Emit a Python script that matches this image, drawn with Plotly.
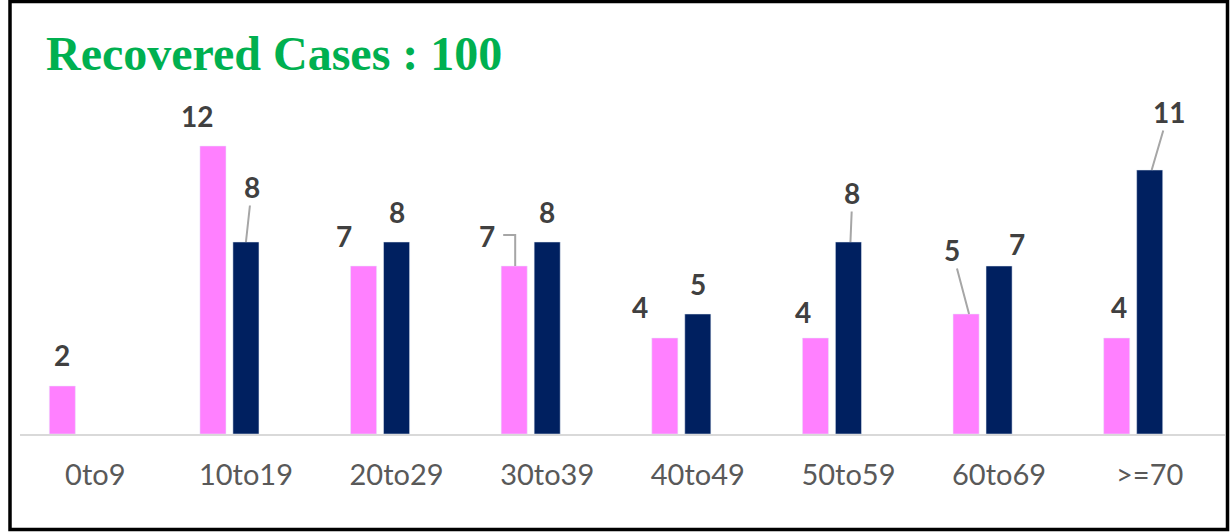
import plotly.graph_objects as go

categories = ["0to9", "10to19", "20to29", "30to39", "40to49", "50to59", "60to69", ">=70"]
female = [2, 12, 7, 7, 4, 4, 5, 4]
male = [None, 8, 8, 8, 5, 8, 7, 11]
spacer = [None] * 8

title_text = "Recovered Cases : 100"
pink = "#FF80FF"
navy = "#002060"
label_color = "#404040"

W, H = 1230, 532
ML, MR, MT, MB = 20, 5, 74, 98
plot_w = W - ML - MR
plot_h = H - MT - MB
ymax = plot_h / 24.0

fig = go.Figure()
fig.add_trace(go.Bar(x=categories, y=female, marker=dict(color=pink), name="Female"))
fig.add_trace(go.Bar(x=categories, y=male, marker=dict(color=navy), name="Male"))
fig.add_trace(go.Bar(x=categories, y=spacer, marker=dict(color="rgba(0,0,0,0)"), name="", hoverinfo="skip"))

# label placement: (dx from bar centre, dy above bar top, leader?, tip shift)
slot = 33
female_lbl = [(0, 31, False, 0), (-16, 30, False, 0), (-20, 30, False, 0), (-27, 30, "elbow", 0),
              (-25, 31, False, 0), (-12, 26, False, 0), (-14, 64, True, 3), (2, 31, False, 0)]
male_lbl = [None, (6, 55, True, 0), (0, 30, False, 0), (0, 30, False, 0),
            (0, 30, False, 0), (4, 49, True, 2), (18, 22, False, 0), (19, 58, True, 2)]

annotations = []
shapes = []
font_lbl = dict(family="Lato, Open Sans, sans-serif", size=28, color=label_color)

def add_label(cat, val, base_shift, spec):
    dx, dy, lead, tip = spec
    if lead is True:
        annotations.append(dict(x=cat, y=val, xref="x", yref="y", text=f"<b>{val}</b>",
                                showarrow=True, arrowhead=0, arrowwidth=2, arrowcolor="#A6A6A6",
                                ax=dx - tip, ay=-dy, xshift=base_shift + tip,
                                font=font_lbl, standoff=0, startstandoff=0))
    else:
        annotations.append(dict(x=cat, y=val, xref="x", yref="y", text=f"<b>{val}</b>",
                                showarrow=False, xshift=base_shift + dx, yshift=dy,
                                font=font_lbl))
        if lead == "elbow":
            shapes.append(dict(type="path", xref="x", yref="y", xsizemode="pixel", ysizemode="pixel",
                               xanchor=cat, yanchor=val,
                               path=f"M {base_shift+1},0 L {base_shift+1},31 L {base_shift-11},31",
                               line=dict(color="#A6A6A6", width=2)))

for i, c in enumerate(categories):
    add_label(c, female[i], -slot, female_lbl[i])
    if male[i] is not None:
        add_label(c, male[i], 0, male_lbl[i])

# title
annotations.append(dict(x=(44 - ML) / plot_w, y=(MT + plot_h - 54) / plot_h, xref="paper", yref="paper",
                        xanchor="left", yanchor="middle", showarrow=False,
                        text=f"<b>{title_text}</b>",
                        font=dict(family="Liberation Serif, Times New Roman, serif", size=48, color="#00B050")))

# outer frame
def px_x(p):
    return (p - ML) / plot_w

def px_y(p):
    return (MT + plot_h - p) / plot_h

shapes.append(dict(type="rect", xref="paper", yref="paper",
                   x0=px_x(10), x1=px_x(1227.5), y0=px_y(529.5), y1=px_y(1.5),
                   line=dict(color="black", width=3.5), fillcolor="rgba(0,0,0,0)", layer="above"))

fig.update_layout(
    width=W, height=H,
    margin=dict(l=ML, r=MR, t=MT, b=MB),
    paper_bgcolor="white", plot_bgcolor="white",
    barmode="group", bargap=0.343, bargroupgap=0.21,
    showlegend=False,
    annotations=annotations, shapes=shapes,
    xaxis=dict(showline=True, linecolor="#D9D9D9", linewidth=2, ticks="", showgrid=False,
               tickfont=dict(family="Lato, Open Sans, sans-serif", size=29, color="#595959"),
               ticklabelstandoff=14),
    yaxis=dict(range=[0, ymax], visible=False, showgrid=False, zeroline=False),
)

fig.write_html("out.html", post_script="document.body.style.margin='0';",
               config={"displayModeBar": False})
